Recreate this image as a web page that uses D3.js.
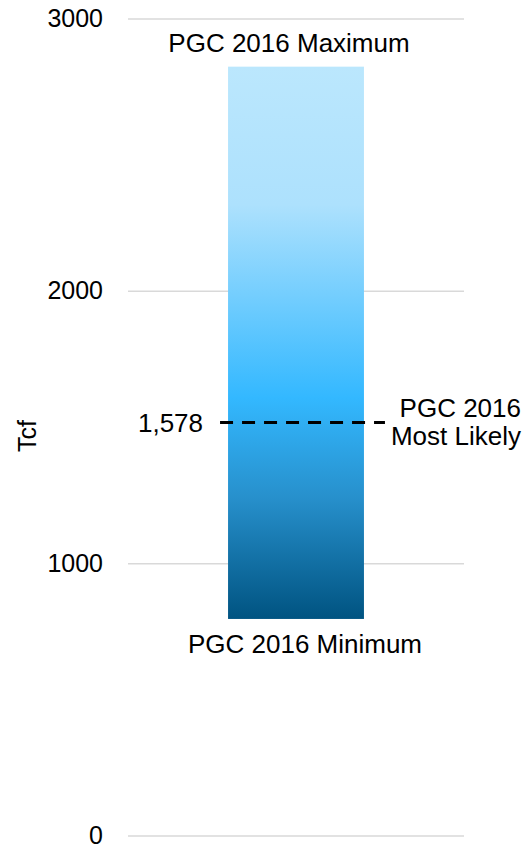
<!DOCTYPE html>
<html lang="en">

<head>
    <meta charset="UTF-8">
    <title>PGC 2016 range</title>
    <script src="https://d3js.org/d3.v7.min.js"></script>
    <style>
        body {
            margin: 0;
            overflow: hidden;
            background: #fff;
        }

        text {
            font-family: "Liberation Sans", Arial, sans-serif;
            fill: #000;
        }

        .grid line {
            stroke: #d9d9d9;
            stroke-width: 1.5px;
        }
    </style>
</head>

<body>
    <div id="chart"></div>
</body>

<script>
    const categories = ["PGC 2016"];
    const minValues = [797];
    const maxValues = [2825];
    const likelyValues = [1518];
    const likelyLabels = ["1,578"];
    const yTicks = [0, 1000, 2000, 3000];

    const width = 527;
    const height = 848;

    const svg = d3.select("#chart")
        .append("svg")
        .attr("width", width)
        .attr("height", height);

    const x = d3.scaleBand()
        .domain(categories)
        .range([128, 464])
        .padding(0.424);

    const y = d3.scaleLinear()
        .domain([0, 3000])
        .range([836, 19]);

    // gradient for the range bar
    const grad = svg.append("defs")
        .append("linearGradient")
        .attr("id", "barGrad")
        .attr("x1", 0).attr("y1", 0)
        .attr("x2", 0).attr("y2", 1);
    [
        [0, "#bbe7fd"],
        [0.25, "#ade1fd"],
        [0.6, "#33b8ff"],
        [0.78, "#2790cc"],
        [1, "#005381"]
    ].forEach(s => grad.append("stop").attr("offset", s[0]).attr("stop-color", s[1]));

    // gridlines
    svg.append("g")
        .attr("class", "grid")
        .selectAll("line")
        .data(yTicks)
        .enter()
        .append("line")
        .attr("x1", 128)
        .attr("x2", 464)
        .attr("y1", d => y(d))
        .attr("y2", d => y(d));

    // tick labels
    svg.append("g")
        .selectAll("text")
        .data(yTicks)
        .enter()
        .append("text")
        .attr("x", 103)
        .attr("y", d => y(d) + 8)
        .attr("text-anchor", "end")
        .style("font-size", "25px")
        .text(d => d);

    // axis title
    svg.append("text")
        .attr("transform", "translate(36,436) rotate(-90)")
        .attr("text-anchor", "middle")
        .style("font-size", "25px")
        .text("Tcf");

    // bar
    svg.selectAll("rect.bar")
        .data(categories)
        .enter()
        .append("rect")
        .attr("class", "bar")
        .attr("x", d => x(d))
        .attr("width", x.bandwidth())
        .attr("y", (d, i) => y(maxValues[i]))
        .attr("height", (d, i) => y(minValues[i]) - y(maxValues[i]))
        .attr("fill", "url(#barGrad)");

    // most likely line
    svg.selectAll("line.likely")
        .data(categories)
        .enter()
        .append("line")
        .attr("class", "likely")
        .attr("x1", d => x(d) - 8)
        .attr("x2", d => x(d) + x.bandwidth() + 21)
        .attr("y1", (d, i) => y(likelyValues[i]))
        .attr("y2", (d, i) => y(likelyValues[i]))
        .attr("stroke", "#000")
        .attr("stroke-width", 3)
        .attr("stroke-dasharray", "13,9");

    categories.forEach((c, i) => {
        const cx = x(c) + x.bandwidth() / 2;
        const ly = y(likelyValues[i]);

        svg.append("text")
            .attr("x", cx - 7)
            .attr("y", y(maxValues[i]) - 15)
            .attr("text-anchor", "middle")
            .style("font-size", "26px")
            .text(c + " Maximum");

        svg.append("text")
            .attr("x", cx + 9)
            .attr("y", y(minValues[i]) + 34)
            .attr("text-anchor", "middle")
            .style("font-size", "26px")
            .text(c + " Minimum");

        svg.append("text")
            .attr("x", x(c) - 25)
            .attr("y", ly + 9)
            .attr("text-anchor", "end")
            .style("font-size", "26px")
            .text(likelyLabels[i]);

        const lab = svg.append("text")
            .attr("x", 521)
            .attr("y", ly - 6)
            .attr("text-anchor", "end")
            .style("font-size", "26px");
        lab.append("tspan").attr("x", 521).text(c);
        lab.append("tspan").attr("x", 521).attr("dy", 28).text("Most Likely");
    });
</script>

</html>
